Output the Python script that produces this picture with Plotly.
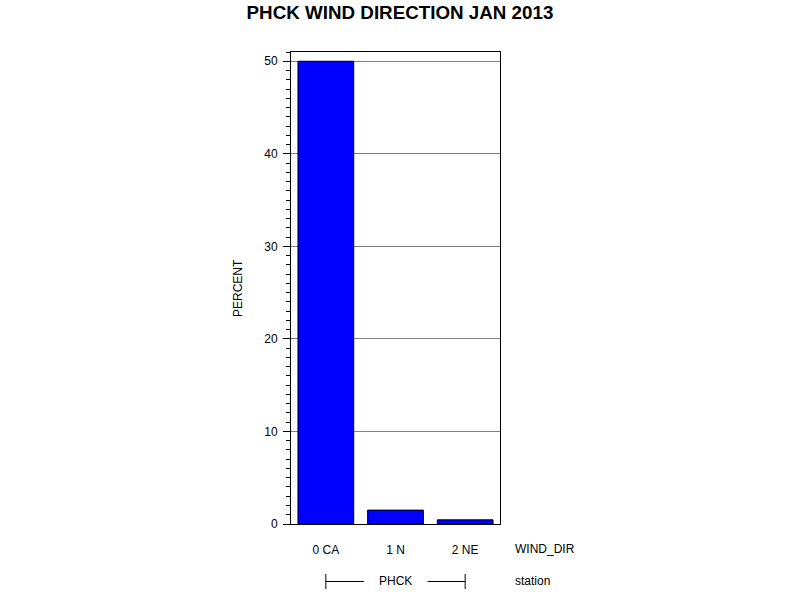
import plotly.graph_objects as go

categories = ["0 CA", "1 N", "2 NE"]
percent = [50.0, 1.5, 0.45]
group_label = "PHCK"
x_axis_name = "WIND_DIR"
group_axis_name = "station"
title_text = "PHCK WIND DIRECTION JAN 2013"
y_title = "PERCENT"

FONT = "Liberation Sans, Arial, sans-serif"

L, R, T, B = 291, 300, 52, 76
W, H = 800, 600
plot_h = H - T - B

def py(p):
    return (H - B - p) / plot_h

fig = go.Figure()
fig.add_trace(go.Bar(
    x=categories, y=percent,
    marker=dict(color="#0000FF", line=dict(color="black", width=1)),
    width=0.8,
))

fig.update_layout(
    width=W, height=H,
    margin=dict(l=L, r=R, t=T, b=B, autoexpand=False),
    paper_bgcolor="white", plot_bgcolor="white",
    showlegend=False,
    font=dict(family=FONT, size=12, color="black"),
    title=dict(text="<b>" + title_text + "</b>", x=0.5, xanchor="center",
               y=1 - 12 / H, yanchor="middle",
               font=dict(family=FONT, size=18.8, color="black")),
)

fig.update_xaxes(
    type="category", range=[-0.5, 2.5],
    showline=True, linecolor="black", linewidth=1, mirror=True,
    ticks="", showgrid=False,
    ticklabelstandoff=15,
    tickfont=dict(family=FONT, size=12, color="black"),
)
fig.update_yaxes(
    range=[0, 51], dtick=10, tick0=0,
    showline=True, linecolor="black", linewidth=1, mirror=True,
    ticks="outside", ticklen=7, tickcolor="black", tickwidth=1,
    minor=dict(dtick=1, ticks="outside", ticklen=4, tickcolor="black", tickwidth=1, showgrid=False),
    showgrid=True, gridcolor="#808080", gridwidth=1,
    zeroline=False,
    ticklabelstandoff=3,
    tickfont=dict(family=FONT, size=12, color="black"),
)

# axis title
fig.add_annotation(text=y_title, textangle=-90, xref="paper", yref="paper",
                   x=(238 - L) / (W - L - R), y=py(288), showarrow=False,
                   xanchor="center", yanchor="middle",
                   font=dict(family=FONT, size=12, color="black"))
# x variable name
fig.add_annotation(text=x_axis_name, xref="paper", yref="paper",
                   x=(513 - L) / (W - L - R), y=py(549), showarrow=False,
                   xanchor="left", yanchor="middle",
                   font=dict(family=FONT, size=12, color="black"))
fig.add_annotation(text=group_axis_name, xref="paper", yref="paper",
                   x=(513 - L) / (W - L - R), y=py(581), showarrow=False,
                   xanchor="left", yanchor="middle",
                   font=dict(family=FONT, size=12, color="black"))
# group label and bracket
fig.add_annotation(text=group_label, xref="x", yref="paper",
                   x=categories[1], y=py(581), showarrow=False,
                   xanchor="center", yanchor="middle",
                   font=dict(family=FONT, size=12, color="black"))
ly = py(581.5)
line = dict(color="black", width=1)
fig.add_shape(type="line", xref="x", yref="paper", x0=0, x1=0.55, y0=ly, y1=ly, line=line)
fig.add_shape(type="line", xref="x", yref="paper", x0=1.46, x1=2, y0=ly, y1=ly, line=line)
fig.add_shape(type="line", xref="x", yref="paper", x0=0, x1=0, y0=py(574), y1=py(589), line=line)
fig.add_shape(type="line", xref="x", yref="paper", x0=2, x1=2, y0=py(574), y1=py(589), line=line)

fig.write_html("out.html", config={"displayModeBar": False},
               post_script="document.body.style.margin='0';")
